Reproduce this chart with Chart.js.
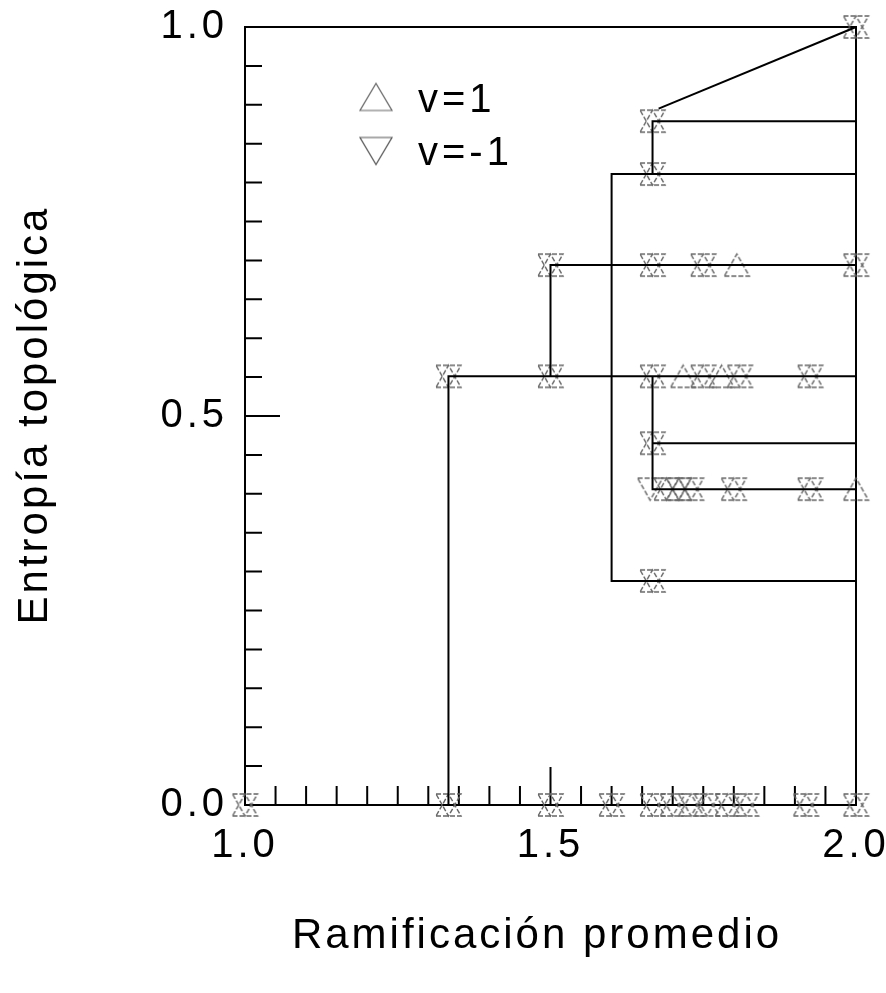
<!DOCTYPE html>
<html>
<head>
<meta charset="utf-8">
<script src="https://cdn.jsdelivr.net/npm/chart.js@4.4.1/dist/chart.umd.min.js"></script>
<style>
  html, body { margin: 0; padding: 0; background: #fff; }
  #wrap { width: 886px; height: 993px; }
</style>
</head>
<body>
<div id="wrap"><canvas id="chart" width="886" height="993"></canvas></div>
<script>
// axis tick labels (ticks every 0.05, labels only here)
const xTickLabels = ["1.0", "1.5", "2.0"];
const yTickLabels = ["0.0", "0.5", "1.0"];

// v=1 points (up triangles), grouped by entropy level
const upX = [
  2.0,                                   // 1.0
  1.667,                                 // 0.879
  1.667,                                 // 0.811
  1.5, 1.667, 1.75, 1.805, 2.0,          // 0.694
  1.333, 1.5, 1.667, 1.717, 1.75, 1.78, 1.81, 1.925, // 0.551
  1.667,                                 // 0.465
  1.69, 1.71, 1.73, 1.8, 1.925, 2.0,     // 0.406
  1.667,                                 // 0.288
  1.0, 1.333, 1.5, 1.6, 1.667, 1.7, 1.73, 1.756, 1.79, 1.82, 1.918, 2.0 // 0.0
];
const upY = [
  1.0,
  0.879,
  0.811,
  0.694, 0.694, 0.694, 0.694, 0.694,
  0.551, 0.551, 0.551, 0.551, 0.551, 0.551, 0.551, 0.551,
  0.465,
  0.406, 0.406, 0.406, 0.406, 0.406, 0.406,
  0.288,
  0, 0, 0, 0, 0, 0, 0, 0, 0, 0, 0, 0
];

// v=-1 points (down triangles)
const downX = [
  2.0,
  1.667,
  1.667,
  1.5, 1.667, 1.75, 2.0,
  1.333, 1.5, 1.667, 1.75, 1.81, 1.925,
  1.667,
  1.663, 1.69, 1.71, 1.73, 1.8, 1.925,
  1.667,
  1.0, 1.333, 1.5, 1.6, 1.667, 1.7, 1.73, 1.756, 1.79, 1.82, 1.918, 2.0
];
const downY = [
  1.0,
  0.879,
  0.811,
  0.694, 0.694, 0.694, 0.694,
  0.551, 0.551, 0.551, 0.551, 0.551, 0.551,
  0.465,
  0.406, 0.406, 0.406, 0.406, 0.406, 0.406,
  0.288,
  0, 0, 0, 0, 0, 0, 0, 0, 0, 0, 0, 0
];

// connecting lines
const stepAX = [1.333, 1.333, 2.0];
const stepAY = [0, 0.551, 0.551];
const stepBX = [1.5, 1.5, 2.0];
const stepBY = [0.551, 0.694, 0.694];
const stepCX = [2.0, 1.6, 1.6, 2.0];
const stepCY = [0.811, 0.811, 0.288, 0.288];
const stepDX = [1.667, 1.667, 2.0];
const stepDY = [0.811, 0.879, 0.879];
const diagX = [1.677, 2.0];
const diagY = [0.895, 1.0];
const stepEX = [1.667, 1.667, 2.0];
const stepEY = [0.551, 0.406, 0.406];
const stepFX = [1.667, 2.0];
const stepFY = [0.465, 0.465];

const pts = (xs, ys) => xs.map((x, i) => ({ x: x, y: ys[i] }));

function triangleCanvas(w, h, up, color, lw, dash) {
  const c = document.createElement("canvas");
  c.width = w + 4;
  c.height = h + 4;
  const g = c.getContext("2d");
  g.strokeStyle = color;
  g.lineWidth = lw;
  g.setLineDash(dash);
  g.beginPath();
  if (up) {
    g.moveTo(2, h + 2); g.lineTo(w + 2, h + 2); g.lineTo(w / 2 + 2, 2);
  } else {
    g.moveTo(2, 2); g.lineTo(w + 2, 2); g.lineTo(w / 2 + 2, h + 2);
  }
  g.closePath();
  g.stroke();
  return c;
}

const upMark = triangleCanvas(25, 22, true, "#666", 1.4, [5, 2]);
const downMark = triangleCanvas(25, 22, false, "#666", 1.4, [5, 2]);
const upLegend = triangleCanvas(32, 27, true, "#666", 1.2, []);
const downLegend = triangleCanvas(32, 27, false, "#555", 1.2, []);

function lineSet(xs, ys) {
  return {
    data: pts(xs, ys),
    showLine: true,
    borderColor: "#000",
    borderWidth: 2,
    pointRadius: 0,
    fill: false,
    clip: false
  };
}

function markSet(label, xs, ys, img) {
  return {
    label: label,
    data: pts(xs, ys),
    showLine: false,
    pointStyle: img,
    pointRadius: 10,
    clip: false
  };
}

const textFont = "Liberation Sans, Arial, sans-serif";
Chart.defaults.font.family = textFont;

const frame = {
  id: "frame",
  beforeDraw(chart) {
    chart.ctx.letterSpacing = "4px";
  },
  beforeDatasetsDraw(chart) {
    const { ctx, chartArea: a, scales } = chart;
    ctx.save();
    ctx.strokeStyle = "#000";
    ctx.lineWidth = 2;
    ctx.strokeRect(a.left, a.top, a.right - a.left, a.bottom - a.top);
    ctx.beginPath();
    scales.x.ticks.forEach(t => {
      const px = scales.x.getPixelForValue(t.value);
      const len = t.label ? 38 : 19;
      ctx.moveTo(px, a.bottom);
      ctx.lineTo(px, a.bottom - len);
    });
    scales.y.ticks.forEach(t => {
      const py = scales.y.getPixelForValue(t.value);
      const len = t.label ? 35 : 17;
      ctx.moveTo(a.left, py);
      ctx.lineTo(a.left + len, py);
    });
    ctx.stroke();
    ctx.restore();
  },
  afterDraw(chart) {
    const ctx = chart.ctx;
    ctx.save();
    ctx.fillStyle = "#000";
    // legend
    ctx.drawImage(upLegend, 376 - upLegend.width / 2, 97 - upLegend.height / 2);
    ctx.drawImage(downLegend, 376 - downLegend.width / 2, 151 - downLegend.height / 2);
    ctx.font = "40px " + textFont;
    ctx.letterSpacing = "4px";
    ctx.textAlign = "left";
    ctx.textBaseline = "alphabetic";
    ctx.fillText("v=1", 418, 112);
    ctx.fillText("v=-1", 418, 165);
    // axis titles
    ctx.font = "42px " + textFont;
    ctx.letterSpacing = "3px";
    ctx.textAlign = "center";
    ctx.fillText("Ramificación promedio", 537, 948);
    ctx.translate(47, 415);
    ctx.rotate(-Math.PI / 2);
    ctx.fillText("Entropía topológica", 0, 0);
    ctx.restore();
  }
};

new Chart(document.getElementById("chart"), {
  type: "scatter",
  data: {
    datasets: [
      lineSet(stepAX, stepAY),
      lineSet(stepBX, stepBY),
      lineSet(stepCX, stepCY),
      lineSet(stepDX, stepDY),
      lineSet(diagX, diagY),
      lineSet(stepEX, stepEY),
      lineSet(stepFX, stepFY),
      markSet("v=1", upX, upY, upMark),
      markSet("v=-1", downX, downY, downMark)
    ]
  },
  options: {
    responsive: false,
    animation: false,
    events: [],
    layout: { padding: { top: 27, right: 30, bottom: 0, left: 0 } },
    plugins: { legend: { display: false }, tooltip: { enabled: false } },
    scales: {
      x: {
        type: "linear",
        min: 1,
        max: 2,
        grid: { display: false },
        border: { display: false },
        ticks: {
          stepSize: 0.05,
          autoSkip: false,
          maxRotation: 0,
          padding: 9,
          color: "#000",
          font: { size: 40 },
          callback: v => xTickLabels.find(l => Math.abs(parseFloat(l) - v) < 1e-6) || ""
        },
        afterFit: s => { s.height = 188; s.paddingLeft = 0; s.paddingRight = 0; }
      },
      y: {
        type: "linear",
        min: 0,
        max: 1,
        grid: { display: false },
        border: { display: false },
        ticks: {
          stepSize: 0.05,
          autoSkip: false,
          padding: 9,
          color: "#000",
          font: { size: 40 },
          callback: v => yTickLabels.find(l => Math.abs(parseFloat(l) - v) < 1e-6) || ""
        },
        afterFit: s => { s.width = 245; s.paddingTop = 0; s.paddingBottom = 0; }
      }
    }
  },
  plugins: [frame]
});
</script>
</body>
</html>
